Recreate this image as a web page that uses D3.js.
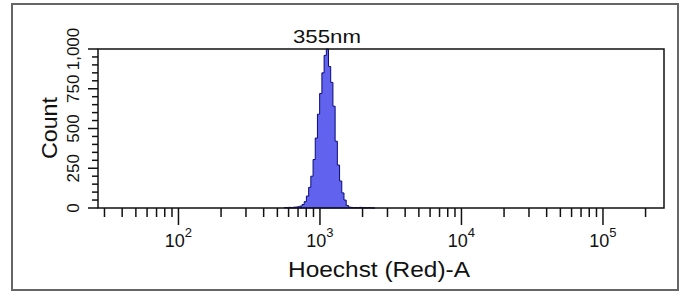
<!DOCTYPE html>
<html>
<head>
<meta charset="utf-8">
<script src="https://cdn.jsdelivr.net/npm/d3@7"></script>
<style>
  body { margin: 0; background: #fff; }
  text { font-family: "Liberation Sans", Arial, sans-serif; fill: #111; }
</style>
</head>
<body>
<script>
// histogram bins (lower edge of each bin, last entry closes the final bin)
const binStart = [560, 580, 602, 624, 647, 670, 695, 720, 747, 774, 802, 832, 862, 894, 926,
  960, 995, 1032, 1070, 1109, 1149, 1191, 1235, 1280, 1327, 1376, 1426, 1478, 1532, 1588,
  1646, 1707, 1769, 1834, 1901, 1971, 2043, 2118, 2195, 2276, 2359, 2445];
const counts = [3, 2, 4, 3, 5, 6, 8, 12, 22, 40, 75, 130, 200, 305, 440,
  590, 720, 850, 960, 1000, 890, 790, 640, 420, 270, 170, 95, 50, 16, 6,
  4, 2, 3, 2, 4, 3, 2, 1, 3, 1, 0, 0];

const xMajor = [100, 1000, 10000, 100000];
const xExp = ['2', '3', '4', '5'];
const yMajor = [0, 250, 500, 750, 1000];
const yLabels = ['0', '250', '500', '750', '1,000'];

const width = 683, height = 294;
const box = {left: 98, right: 664, top: 49, bottom: 208};

const svg = d3.select('body').append('svg')
  .attr('width', width)
  .attr('height', height);

// outer frame
svg.append('rect')
  .attr('x', 12).attr('y', 4)
  .attr('width', 666).attr('height', 286)
  .attr('fill', 'none')
  .attr('stroke', '#666')
  .attr('stroke-width', 2);

const x = d3.scaleLog().domain([27, 270000]).range([box.left, box.right]);
const y = d3.scaleLinear().domain([0, 1000]).range([box.bottom, box.top]);

// histogram
const pts = binStart.map((v, i) => [v, counts[i]]);
const area = d3.area()
  .x(d => x(d[0]))
  .y0(y(0))
  .y1(d => y(d[1]))
  .curve(d3.curveStepAfter);

svg.append('path')
  .datum(pts)
  .attr('d', area)
  .attr('fill', '#6163ee')
  .attr('stroke', '#0a0a78')
  .attr('stroke-width', 1);

// plot box
svg.append('rect')
  .attr('x', box.left).attr('y', box.top)
  .attr('width', box.right - box.left).attr('height', box.bottom - box.top)
  .attr('fill', 'none')
  .attr('stroke', '#111')
  .attr('stroke-width', 1.5);

// x ticks
const xt = x.ticks().filter(v => v >= 27 && v <= 270000);
svg.append('g').selectAll('line')
  .data(xt)
  .enter().append('line')
  .attr('x1', d => x(d)).attr('x2', d => x(d))
  .attr('y1', box.bottom)
  .attr('y2', d => box.bottom + (xMajor.includes(d) ? 17 : 9))
  .attr('stroke', '#111')
  .attr('stroke-width', 1.5);

const xl = svg.append('g').selectAll('text')
  .data(xMajor)
  .enter().append('text')
  .attr('x', d => x(d))
  .attr('y', 247)
  .attr('text-anchor', 'middle');
xl.append('tspan').style('font-size', '18px').text('10');
xl.append('tspan').style('font-size', '13px').attr('dy', -10).text((d, i) => xExp[i]);

// y ticks
svg.append('g').selectAll('line')
  .data(y.ticks(20))
  .enter().append('line')
  .attr('y1', d => y(d)).attr('y2', d => y(d))
  .attr('x1', box.left)
  .attr('x2', d => box.left - (yMajor.includes(d) ? 10 : 6))
  .attr('stroke', '#111')
  .attr('stroke-width', 1.5);

svg.append('g').selectAll('text')
  .data(yMajor)
  .enter().append('text')
  .attr('transform', d => `translate(79, ${y(d)}) rotate(-90)`)
  .attr('text-anchor', 'middle')
  .style('font-size', '17px')
  .text((d, i) => yLabels[i]);

// titles
svg.append('text')
  .attr('x', 327).attr('y', 43)
  .attr('text-anchor', 'middle')
  .attr('textLength', 68)
  .attr('lengthAdjust', 'spacingAndGlyphs')
  .style('font-size', '19px')
  .text('355nm');

svg.append('text')
  .attr('x', 379).attr('y', 277)
  .attr('text-anchor', 'middle')
  .attr('textLength', 182)
  .attr('lengthAdjust', 'spacingAndGlyphs')
  .style('font-size', '22px')
  .text('Hoechst (Red)-A');

svg.append('text')
  .attr('transform', 'translate(57, 128) rotate(-90)')
  .attr('text-anchor', 'middle')
  .attr('textLength', 62)
  .attr('lengthAdjust', 'spacingAndGlyphs')
  .style('font-size', '22px')
  .text('Count');
</script>
</body>
</html>
